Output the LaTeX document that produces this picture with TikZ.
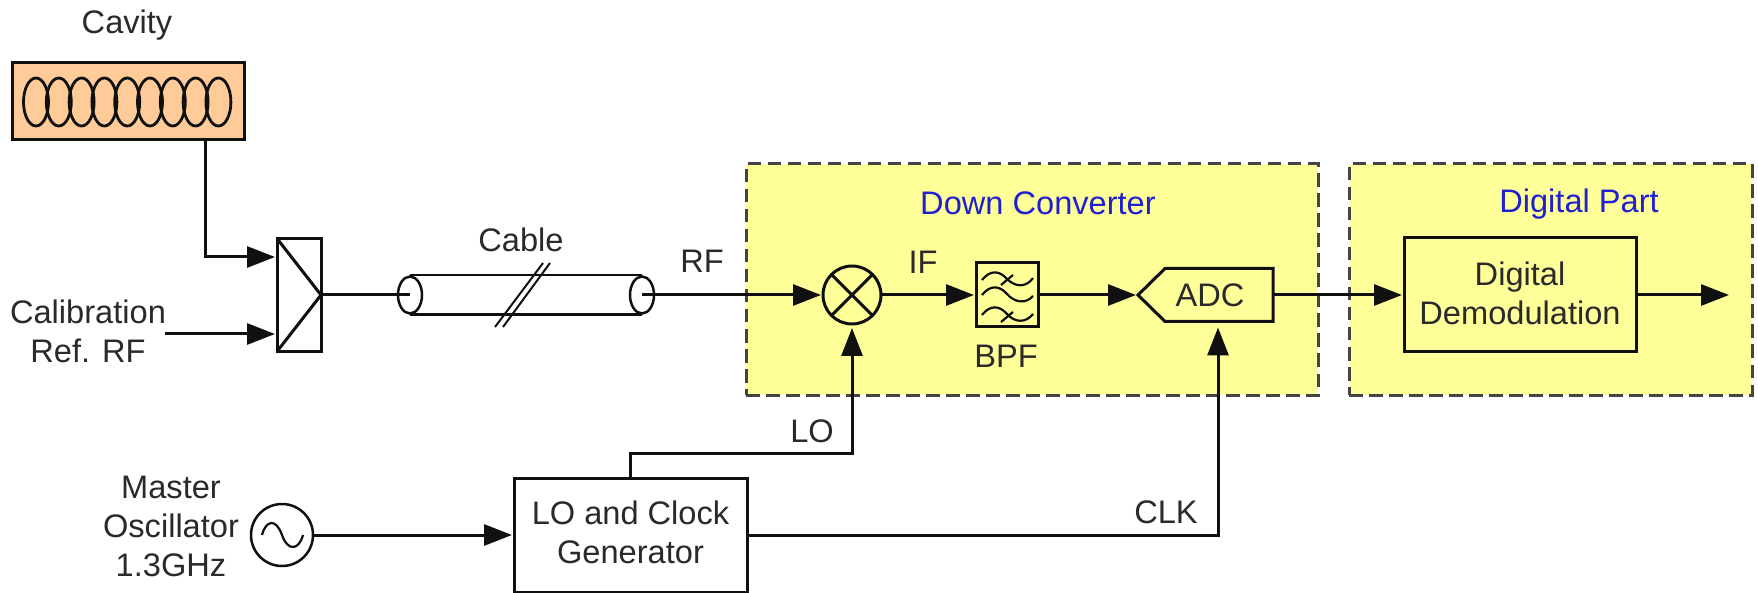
\documentclass[tikz,border=0pt]{standalone}
\usepackage{fontspec}
\setmainfont{Liberation Sans}
\usetikzlibrary{arrows.meta,shapes.geometric,calc}
\definecolor{cavfill}{HTML}{FFCC99}
\definecolor{panelfill}{HTML}{FFFF99}
\definecolor{paneledge}{HTML}{444444}
\definecolor{titleblue}{HTML}{2020D0}
\definecolor{ink}{HTML}{101010}
\definecolor{txt}{HTML}{2A2A2A}
\tikzset{
  lbl/.style={font=\fontsize{32.6}{39}\selectfont,text=txt,align=center,inner sep=0pt,outer sep=0pt},
  title/.style={lbl,text=titleblue},
  panel/.style={draw=paneledge,fill=panelfill,line width=3pt,dash pattern=on 13.5pt off 6.5pt,inner sep=0pt},
  blockbox/.style={draw=ink,line width=3pt,inner sep=0pt,outer sep=0pt},
  wire/.style={draw=ink,line width=3pt},
  head/.style={-{Triangle[length=28pt,width=21pt]}},
  arr/.style={wire,head,shorten >=2pt},
  thin wire/.style={draw=ink,line width=2.5pt},
  cell/.style={draw=ink,line width=2.8pt,ellipse,minimum width=25pt,minimum height=48pt,inner sep=0pt},
}
\begin{document}
\begin{tikzpicture}[x=1pt,y=-1pt]
\path[fill=white] (0,0) rectangle (1758,593);
\useasboundingbox (0,0) rectangle (1758,593);

% panels
\node[panel,minimum width=572pt,minimum height=231pt] (panelA) at (1032,279.5) {};
\node[panel,minimum width=403pt,minimum height=231pt] (panelB) at (1550.5,279.5) {};
\node[title] (titleA) at (1038,203) {Down Converter};
\node[title] (titleB) at (1579,204) {Digital Part};

% cavity
\node[blockbox,fill=cavfill,minimum width=232pt,minimum height=77pt] (cavity) at (128,101.5) {};
\foreach \i in {0,...,8}{
  \node[cell] (cell\i) at ({36+22.8*\i},102) {};
}
\node[lbl] (cavlabel) at (127,25) {Cavity};

% combiner
\node[blockbox,minimum width=44pt,minimum height=113pt] (comb) at (299,295) {};
\draw[wire] (comb.north west) -- (comb.east) -- (comb.south west);
\coordinate (combA) at (277,257);
\coordinate (combB) at (277,334);
\node[lbl] (callabel) at (88,331) {Calibration\\Ref. RF};
\coordinate (calsrc) at (165,334);

% cable
\node[draw=ink,line width=2.5pt,ellipse,minimum width=24pt,minimum height=37pt,inner sep=0pt] (cabL) at (410,295) {};
\node[draw=ink,line width=2.5pt,ellipse,minimum width=24pt,minimum height=37pt,inner sep=0pt] (cabR) at (642,295) {};
\draw[thin wire] (cabL.north) -- (cabR.north);
\draw[thin wire] (cabL.south) -- (cabR.south);
\coordinate (slashAa) at (495,327);
\coordinate (slashAb) at (543,263);
\coordinate (slashBa) at (503,327);
\coordinate (slashBb) at (550,263);
\draw[draw=ink,line width=2pt] (slashAa) -- (slashAb);
\draw[draw=ink,line width=2pt] (slashBa) -- (slashBb);
\node[lbl] (cablelabel) at (521,240) {Cable};
\node[lbl] (rflabel) at (702,261) {RF};

% mixer
\node[draw=ink,line width=3pt,circle,minimum size=58pt,inner sep=0pt,outer sep=0pt] (mixer) at (852,295) {};
\draw[wire] (mixer.45) -- (mixer.225);
\draw[wire] (mixer.135) -- (mixer.315);
\node[lbl] (iflabel) at (923,262) {IF};

% BPF
\node[blockbox,minimum width=62pt,minimum height=64pt] (bpf) at (1007,295) {};
\coordinate (wigAs) at (982,280);
\coordinate (wigAe) at (1033,278);
\coordinate (wigBs) at (982,295);
\coordinate (wigBe) at (1033,296);
\coordinate (wigCs) at (982,315);
\coordinate (wigCe) at (1033,314);
\draw[draw=ink,line width=2.2pt] (wigAs) .. controls (990,270) and (999,270) .. (1007,279) .. controls (1015,287) and (1026,288) .. (wigAe);
\draw[draw=ink,line width=2.2pt] (wigBs) .. controls (990,285) and (999,285) .. (1007,294) .. controls (1015,303) and (1026,304) .. (wigBe);
\draw[draw=ink,line width=2.2pt] (wigCs) .. controls (990,305) and (999,305) .. (1007,314) .. controls (1015,323) and (1026,323) .. (wigCe);
\draw[draw=ink,line width=2.2pt] (1001,285) -- (1013,275);
\draw[draw=ink,line width=2.2pt] (1001,322) -- (1013,312);
\node[lbl] (bpflabel) at (1006,356) {BPF};

% ADC
\node[inner sep=0pt,outer sep=0pt,minimum width=135pt,minimum height=53pt,font=\fontsize{32.6}{39}\selectfont,text=txt] (adc) at (1205.5,295) {\hspace{9pt}ADC};
\draw[wire,line join=miter] (adc.west) -- ([xshift=27pt]adc.north west) -- (adc.north east) -- (adc.south east) -- ([xshift=27pt]adc.south west) -- cycle;

% digital demodulation
\node[blockbox,minimum width=232pt,minimum height=114pt,label={[lbl,yshift=2pt]center:{Digital\\Demodulation}}] (demod) at (1520,295) {};
\coordinate (outend) at (1729,295);

% oscillator
\node[draw=ink,line width=2.5pt,circle,minimum size=62pt,inner sep=0pt,outer sep=0pt] (osc) at (282,535) {};
\draw[draw=ink,line width=2.2pt] (262,535) .. controls (266,520) and (276,518) .. (282,535) .. controls (288,552) and (299,550) .. (303,535);
\node[lbl] (osclabel) at (171,526) {Master\\Oscillator\\1.3GHz};

% LO and clock generator
\node[blockbox,minimum width=233pt,minimum height=114pt,label={[lbl,yshift=2.5pt]center:{LO and Clock\\Generator}}] (lo) at (630.5,535) {};
\coordinate (lobend) at (630.5,453);
\node[lbl] (lolabel) at (812,431) {LO};
\node[lbl] (clklabel) at (1166,512) {CLK};

% connectors
\draw[arr] ([xshift=77pt]cavity.south) |- (combA);
\draw[arr] (calsrc) -- (combB);
\draw[wire] (comb.east) -- (cabL.center);
\draw[arr] (cabR.center) -- (mixer.west);
\draw[arr] (mixer.east) -- (bpf.west);
\draw[arr] (bpf.east) -- (adc.west);
\draw[arr] (adc.east) -- (demod.west);
\draw[arr,shorten >=0pt] (demod.east) -- (outend);
\draw[arr] (osc.east) -- (lo.west);
\draw[wire,head,shorten >=4pt] (lo.north) -- (lobend) -| (mixer.south);
\draw[wire,head,shorten >=6pt] (lo.east) -| ([xshift=12.5pt]adc.south);
\end{tikzpicture}
\end{document}
